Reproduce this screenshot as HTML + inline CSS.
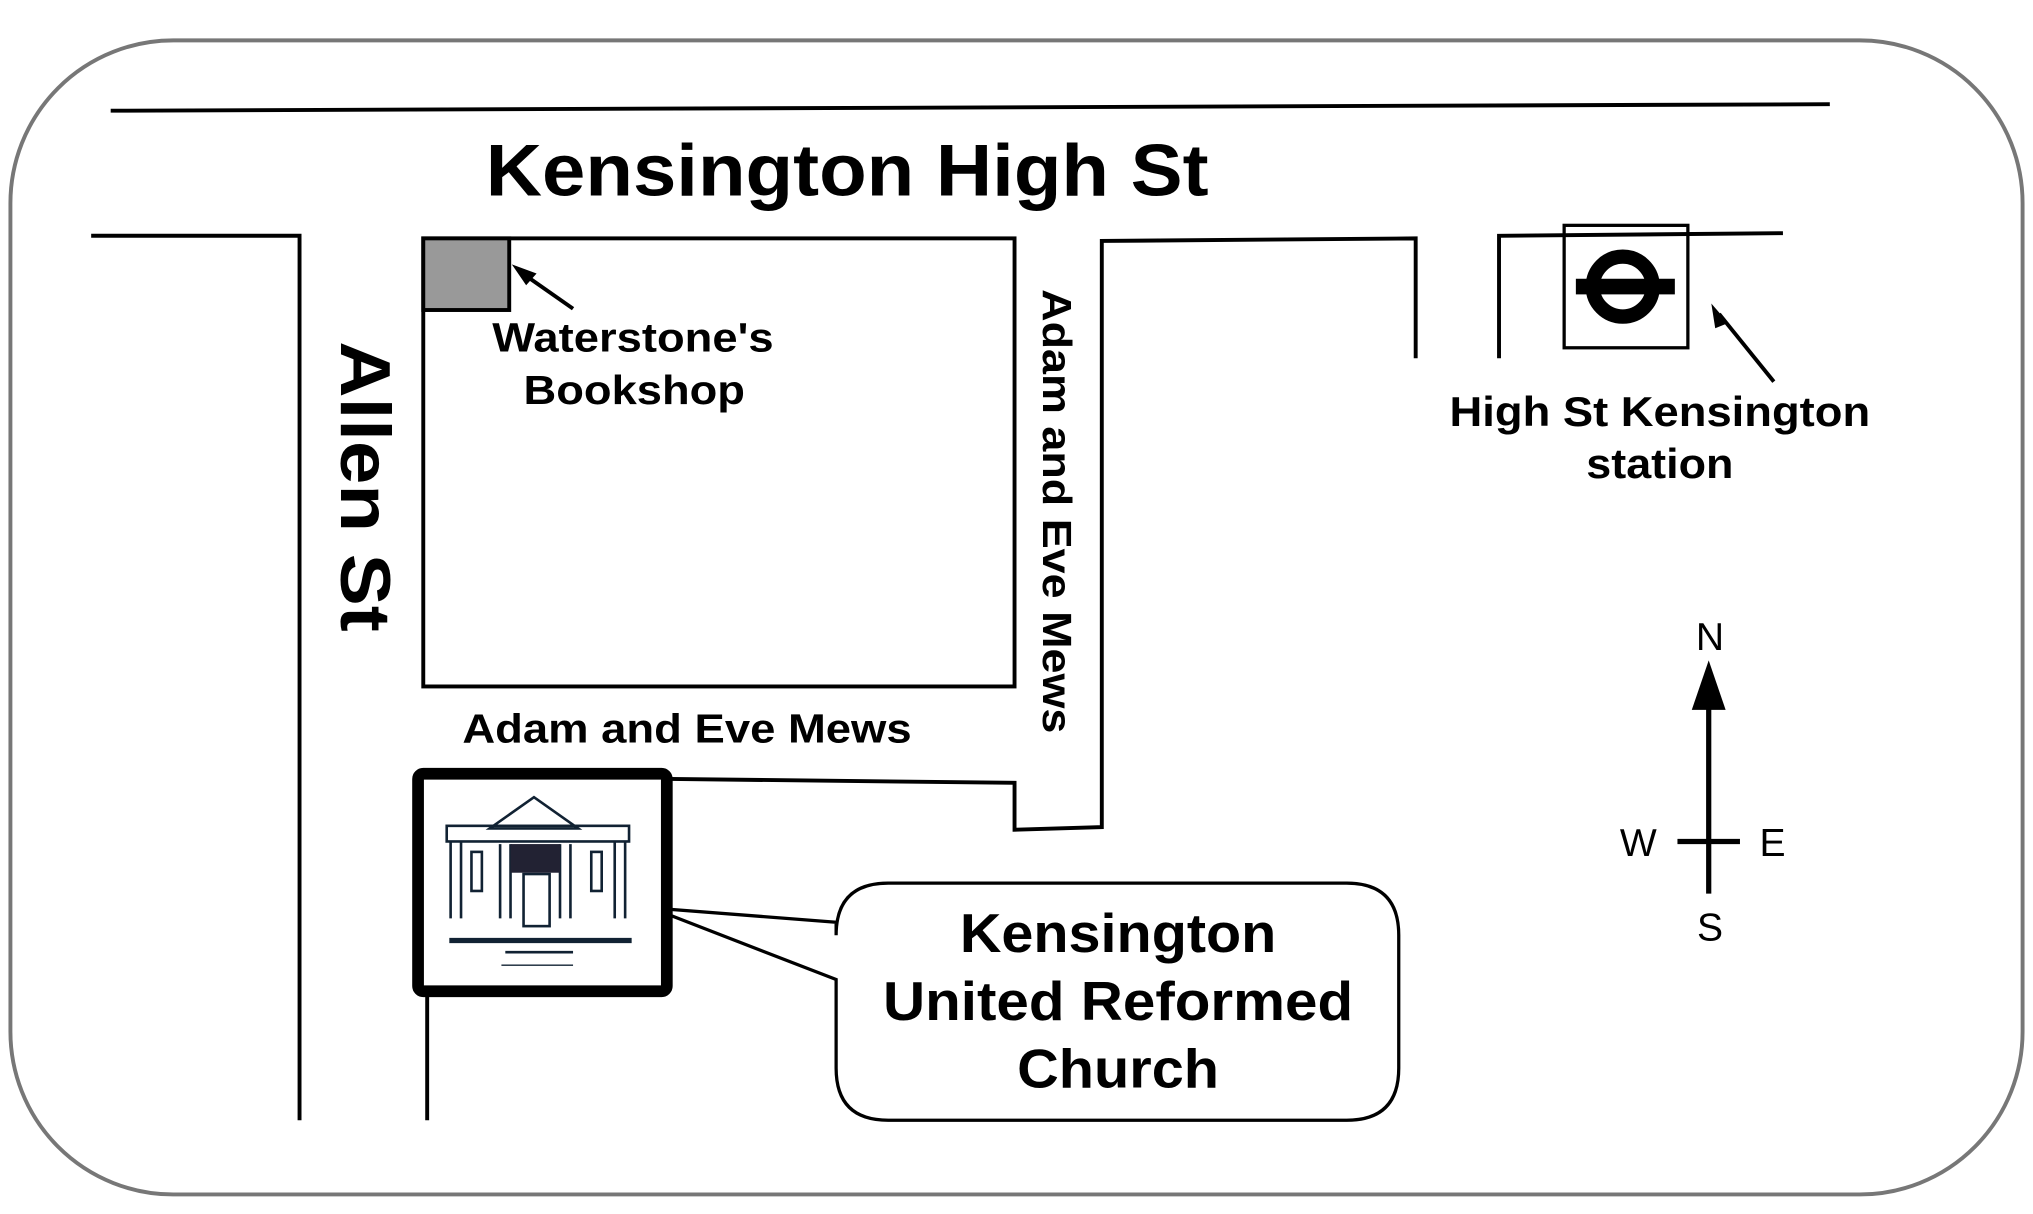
<!DOCTYPE html>
<html><head><meta charset="utf-8"><style>html,body{margin:0;padding:0;background:#fff}svg{display:block}</style></head>
<body>
<svg width="2033" height="1214" viewBox="0 0 1561 932" preserveAspectRatio="none" xmlns="http://www.w3.org/2000/svg" font-family="Liberation Sans, Arial, sans-serif">
<rect x="8" y="31" width="1545" height="886" rx="125" fill="#fff" stroke="#777" stroke-width="3"/>
<g stroke="#000" stroke-width="3" fill="none">
<line x1="85" y1="85" x2="1405" y2="80"/>
<polyline points="70,181 230,181 230,860"/>
<rect x="325" y="183" width="454" height="344"/>
<polyline points="515,598 779,601 779,637 846,635 846,185 1087,183 1087,275"/>
<polyline points="1151,275 1151,181 1369,179"/>
<line x1="328" y1="761" x2="328" y2="860"/>
<rect x="1201" y="173" width="95" height="94" stroke-width="2.5"/>
<line x1="440" y1="237" x2="400" y2="209"/>
<line x1="1362" y1="293" x2="1320" y2="241"/>
<line x1="1312" y1="540" x2="1312" y2="686" stroke-width="4"/>
<line x1="1288" y1="646" x2="1336" y2="646" stroke-width="4"/>
</g>
<rect x="325" y="183" width="66" height="55" fill="#999" stroke="#000" stroke-width="3"/>
<polygon points="393,203 412,210 404,219" fill="#000"/>
<polygon points="1314,233 1327,248 1317,252" fill="#000"/>
<polygon points="1312,507 1299,545 1325,545" fill="#000"/>
<circle cx="1246" cy="220" r="23" fill="none" stroke="#000" stroke-width="11"/>
<rect x="1210" y="214" width="76" height="12" fill="#000"/>
<text x="373" y="150" font-size="56" font-weight="bold" textLength="555" lengthAdjust="spacingAndGlyphs">Kensington High St</text>
<text x="378" y="270" font-size="31" font-weight="bold" textLength="216" lengthAdjust="spacingAndGlyphs">Waterstone's</text>
<text x="402" y="310" font-size="31" font-weight="bold" textLength="170" lengthAdjust="spacingAndGlyphs">Bookshop</text>
<text transform="translate(262,262) rotate(90)" font-size="54" font-weight="bold" textLength="223" lengthAdjust="spacingAndGlyphs">Allen St</text>
<text transform="translate(801,222) rotate(90)" font-size="31" font-weight="bold" textLength="341" lengthAdjust="spacingAndGlyphs">Adam and Eve Mews</text>
<text x="355" y="570" font-size="31" font-weight="bold" textLength="345" lengthAdjust="spacingAndGlyphs">Adam and Eve Mews</text>
<text x="1113" y="327" font-size="32" font-weight="bold" textLength="323" lengthAdjust="spacingAndGlyphs">High St Kensington</text>
<text x="1218" y="367" font-size="32" font-weight="bold" textLength="113" lengthAdjust="spacingAndGlyphs">station</text>
<g font-size="30" text-anchor="middle"><text x="1313" y="499">N</text><text x="1258" y="657">W</text><text x="1361" y="657">E</text><text x="1313" y="722">S</text></g>
<path d="M682,678 H1034 Q1074,678 1074,718 V820 Q1074,860 1034,860 H682 Q642,860 642,820 V752 L500,697 L642,708 V718 Q642,678 682,678 Z" fill="#fff" stroke="#000" stroke-width="2.5"/>
<g font-size="42" font-weight="bold"><text x="737" y="731" textLength="243" lengthAdjust="spacingAndGlyphs">Kensington</text><text x="678" y="783" textLength="361" lengthAdjust="spacingAndGlyphs">United Reformed</text><text x="781" y="835" textLength="155" lengthAdjust="spacingAndGlyphs">Church</text></g>
<rect x="321" y="594" width="191" height="167" rx="4" fill="#fff" stroke="#000" stroke-width="9"/>
<g stroke="#123" fill="none" stroke-width="2">
<polygon points="376,636 410,612 444,636"/>
<rect x="343" y="634" width="140" height="12"/>
<line x1="346" y1="646" x2="346" y2="705"/><line x1="354" y1="646" x2="354" y2="705"/>
<line x1="384" y1="648" x2="384" y2="705"/><line x1="392" y1="648" x2="392" y2="705"/>
<line x1="430" y1="648" x2="430" y2="705"/><line x1="438" y1="648" x2="438" y2="705"/>
<line x1="472" y1="646" x2="472" y2="705"/><line x1="480" y1="646" x2="480" y2="705"/>
<rect x="362" y="654" width="8" height="30"/><rect x="454" y="654" width="8" height="30"/>
<rect x="402" y="671" width="20" height="40"/>
<line x1="345" y1="722" x2="485" y2="722" stroke-width="4"/>
<line x1="388" y1="731" x2="440" y2="731" stroke-width="2"/>
<line x1="385" y1="741" x2="440" y2="741" stroke-width="1"/>
</g>
<rect x="392" y="648" width="38" height="22" fill="#223"/>
</svg>
</body></html>
